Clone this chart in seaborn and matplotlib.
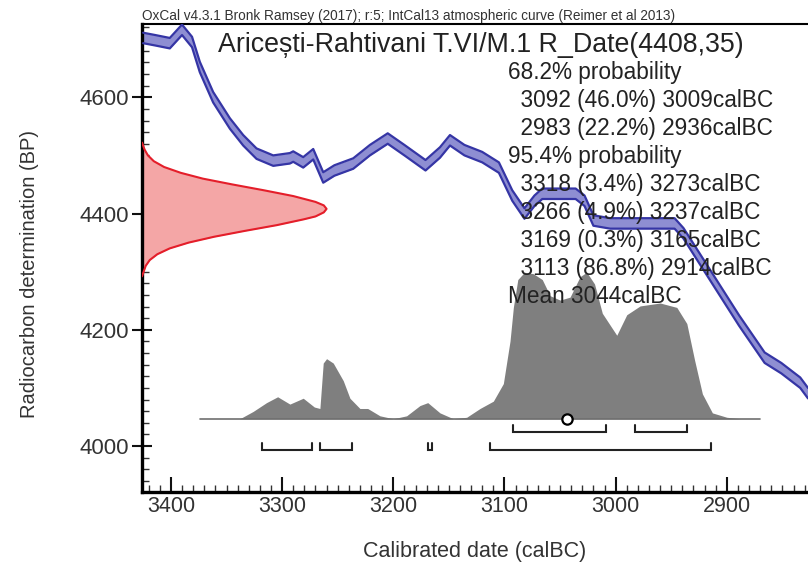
"""OxCal style calibration plot for R_Date(4408,35)

Calibration curve band, radiocarbon date on the y axis,
calibrated distribution and probability ranges on the x axis.
"""
import matplotlib.pyplot as plt
import matplotlib.ticker as tck
import seaborn as sns

# calibration curve (centre, BP)
curve_years = [3425, 3414, 3401, 3390, 3381, 3374, 3362, 3347, 3335, 3323,
               3308, 3293, 3290, 3281, 3272, 3263, 3253, 3236, 3221, 3205,
               3190, 3171, 3158, 3149, 3136, 3120, 3105, 3093, 3082, 3073,
               3066, 3036, 3028, 3020, 3005, 2993, 2947, 2939, 2929, 2916,
               2889, 2866, 2851, 2834, 2827]
curve_bp = [4702, 4698, 4693, 4716, 4695, 4652, 4600, 4555, 4526, 4503,
            4491, 4495, 4498, 4488, 4502, 4462, 4474, 4486, 4509, 4529,
            4509, 4483, 4505, 4526, 4509, 4497, 4479, 4431, 4400, 4422,
            4434, 4434, 4422, 4388, 4383, 4383, 4383, 4366, 4336, 4297,
            4216, 4152, 4134, 4109, 4091]
curve_err = 9

# radiocarbon date distribution (relative height)
date_bp = [4522, 4510, 4500, 4490, 4480, 4470, 4460, 4450, 4440, 4430,
           4420, 4414, 4408, 4402, 4395, 4390, 4380, 4370, 4360, 4350,
           4340, 4330, 4320, 4310, 4300, 4292]
date_h = [0.0, 0.014, 0.032, 0.064, 0.12, 0.21, 0.33, 0.49, 0.66, 0.82,
          0.94, 0.985, 1.0, 0.985, 0.94, 0.876, 0.73, 0.555, 0.39, 0.253,
          0.15, 0.083, 0.042, 0.02, 0.009, 0.0]

# calibrated distribution (relative height)
cal_years = [3338, 3326, 3314, 3304, 3293, 3281, 3271, 3266, 3263, 3260,
             3254, 3245, 3239, 3230, 3223, 3212, 3200, 3188, 3176, 3169,
             3158, 3146, 3134, 3122, 3110, 3101, 3095, 3092, 3088, 3082,
             3074, 3066, 3059, 3050, 3041, 3032, 3026, 3019, 3012, 2999,
             2990, 2978, 2960, 2945, 2936, 2929, 2922, 2913, 2900, 2888]
cal_prob = [0.0, 0.05, 0.11, 0.15, 0.10, 0.14, 0.08, 0.07, 0.38, 0.41,
            0.38, 0.26, 0.14, 0.07, 0.07, 0.02, 0.0, 0.02, 0.09, 0.11,
            0.04, 0.0, 0.01, 0.07, 0.12, 0.24, 0.53, 0.76, 0.95, 1.0,
            0.99, 0.95, 0.84, 0.81, 0.83, 0.97, 1.0, 0.92, 0.72, 0.57,
            0.71, 0.77, 0.79, 0.76, 0.65, 0.40, 0.17, 0.04, 0.01, 0.0]
mean_year = 3044

range68_from = [3092, 2983]
range68_to = [3009, 2936]
range95_from = [3318, 3266, 3169, 3113]
range95_to = [3273, 3237, 3165, 2914]

x_ticks = [3400, 3300, 3200, 3100, 3000, 2900]
y_ticks = [4000, 4200, 4400, 4600]

title = "Aricești-Rahtivani T.VI/M.1 R_Date(4408,35)"
header = ("OxCal v4.3.1 Bronk Ramsey (2017); r:5; "
          "IntCal13 atmospheric curve (Reimer et al 2013)")
info_lines = ["68.2% probability",
              "  3092 (46.0%) 3009calBC",
              "  2983 (22.2%) 2936calBC",
              "95.4% probability",
              "  3318 (3.4%) 3273calBC",
              "  3266 (4.9%) 3237calBC",
              "  3169 (0.3%) 3165calBC",
              "  3113 (86.8%) 2914calBC",
              "Mean 3044calBC"]


def main():
    sns.set_theme(style="ticks")
    plt.rcParams["font.family"] = ["Liberation Sans", "DejaVu Sans"]
    W, H = 808, 563
    fig = plt.figure(figsize=(W / 100, H / 100), dpi=100)
    ax = fig.add_axes([142 / W, 1 - 492 / H, 1 - 142 / W, (492 - 24) / H])

    x_left, x_right = 3426, 2827
    ax.set_xlim(x_left, x_right)
    ax.set_ylim(3921, 4726)

    # calibration curve band
    lo = [v - curve_err for v in curve_bp]
    hi = [v + curve_err for v in curve_bp]
    ax.fill_between(curve_years, lo, hi, color="#8e8ed2", lw=0, zorder=2)
    sns.lineplot(x=curve_years, y=lo, ax=ax, color="#3535a5", lw=1.6, zorder=3)
    sns.lineplot(x=curve_years, y=hi, ax=ax, color="#3535a5", lw=1.6, zorder=3)

    # radiocarbon date on the y axis
    red_w = 166
    red_x = [x_left - h * red_w for h in date_h]
    ax.fill_betweenx(date_bp, x_left, red_x, color="#f4a6a6", lw=0, zorder=2)
    ax.plot(red_x, date_bp, color="#e41e2a", lw=1.5, zorder=3)

    # calibrated distribution
    base = 4047
    scale = 252
    top = [base + p * scale for p in cal_prob]
    ax.fill_between(cal_years, base, top, color="#7f7f7f", lw=0, zorder=1)
    ax.plot([3374, 2870], [base, base], color="#6f6f6f", lw=1.2, zorder=1)
    ax.scatter([mean_year], [base], s=55, facecolor="white",
               edgecolor="black", linewidth=1.6, zorder=5)

    # range brackets
    def brackets(starts, ends, level, tick=12):
        for a, b in zip(starts, ends):
            ax.plot([a, a, b, b], [level + tick, level, level, level + tick],
                    color="#222222", lw=1.5, zorder=4,
                    solid_joinstyle="miter")

    brackets(range68_from, range68_to, 4024)
    brackets(range95_from, range95_to, 3994)

    # axes styling
    ax.set_xticks(x_ticks)
    ax.set_yticks(y_ticks)
    ax.xaxis.set_minor_locator(tck.MultipleLocator(10))
    ax.yaxis.set_minor_locator(tck.MultipleLocator(20))
    ax.tick_params(axis="x", which="major", direction="in", length=11,
                   width=1.5, labelsize=15.5, pad=3, colors="#111111",
                   labelcolor="#333333")
    ax.tick_params(axis="x", which="minor", direction="in", length=5,
                   width=1.0, colors="#333333")
    ax.tick_params(axis="y", which="major", direction="inout", length=14,
                   width=1.5, labelsize=16, pad=2, colors="#111111",
                   labelcolor="#333333")
    ax.tick_params(axis="y", which="minor", direction="in", length=5,
                   width=1.0, colors="#333333")
    ax.tick_params(top=False, right=False, which="both")
    for side in ["left", "bottom"]:
        ax.spines[side].set_linewidth(2.4)
        ax.spines[side].set_color("black")
    ax.spines["top"].set_linewidth(1.5)
    ax.spines["top"].set_color("black")
    ax.spines["right"].set_visible(False)
    ax.grid(False)
    ax.set_facecolor("white")

    fig.text(475 / W, 1 - 551 / H, "Calibrated date (calBC)", fontsize=15.5,
             ha="center", va="center", color="#333333")
    fig.text(30 / W, 1 - 274 / H, "Radiocarbon determination (BP)",
             fontsize=14.5, ha="center", va="center", rotation=90,
             color="#333333")

    # texts
    fig.text(142 / W, 1 - 16 / H, header, fontsize=9.8, ha="left",
             va="center", color="#333333")
    fig.text(218 / W, 1 - 45 / H, title, fontsize=19.3, ha="left",
             va="center", color="#222222")
    for i, line in enumerate(info_lines):
        fig.text(508 / W, 1 - (72 + 28.1 * i) / H, line, fontsize=16.3,
                 ha="left", va="center", color="#222222", zorder=6)

    fig.savefig("out.png", dpi=100, facecolor="white")
    plt.close(fig)


if __name__ == "__main__":
    main()
